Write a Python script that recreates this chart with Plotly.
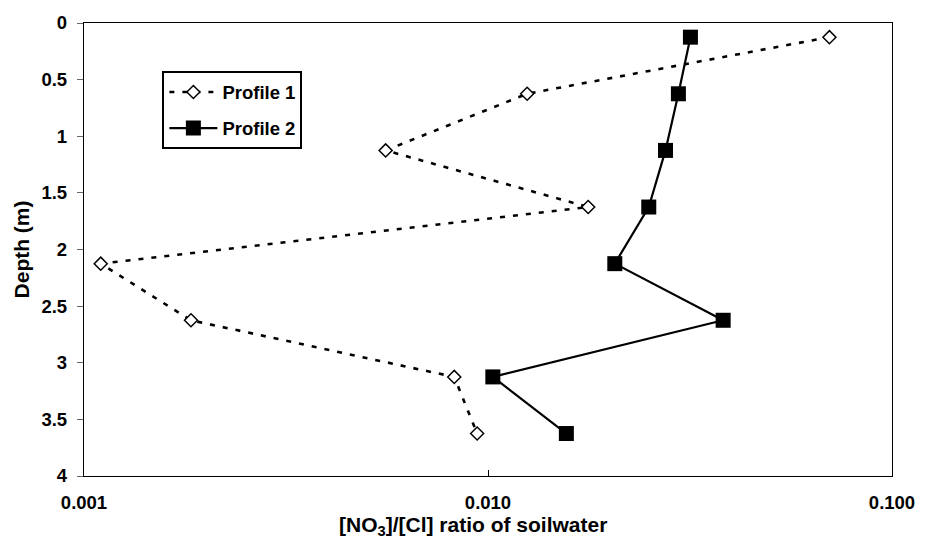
import plotly.graph_objects as go

# Sampling depths (m) and nitrate/chloride ratios for the two soil profiles
depth_m = [0.125, 0.625, 1.125, 1.625, 2.125, 2.625, 3.125, 3.625]
profile1_ratio = [0.0700, 0.0125, 0.00558, 0.0177, 0.00110, 0.00184, 0.00825, 0.0094]
profile2_ratio = [0.0317, 0.0296, 0.0275, 0.0250, 0.0206, 0.0382, 0.01028, 0.01563]

x_tick_vals = [0.001, 0.01, 0.1]
x_tick_text = ["0.001", "0.010", "0.100"]

FONT = "Liberation Sans, Arial, sans-serif"
bold = dict(family=FONT, size=18.5, color="black", weight="bold")
title_font = dict(family=FONT, size=21, color="black", weight="bold")

fig = go.Figure()
fig.add_trace(go.Scatter(
    x=profile1_ratio, y=depth_m, mode="lines+markers", name="Profile 1",
    legendgroup="p1",
    line=dict(color="black", width=2.6, dash="5px,8px"),
    marker=dict(symbol="diamond", size=10, color="white",
                line=dict(color="black", width=1.5)),
))
fig.add_trace(go.Scatter(
    x=profile2_ratio, y=depth_m, mode="lines+markers", name="Profile 2",
    legendgroup="p2",
    line=dict(color="black", width=2.2),
    marker=dict(symbol="square", size=15, color="black",
                line=dict(color="black", width=0)),
))

fig.update_layout(
    width=927, height=544,
    margin=dict(l=84, r=29, t=19, b=68),
    paper_bgcolor="white", plot_bgcolor="white",
    font=bold,
    showlegend=True,
    legend=dict(
        x=0.097, y=0.893, xanchor="left", yanchor="top",
        bordercolor="black", borderwidth=2, bgcolor="white",
        font=bold, itemwidth=48, tracegroupgap=9,
    ),
    xaxis=dict(
        type="log", range=[-3, -1],
        tickvals=x_tick_vals, ticktext=x_tick_text,
        ticks="inside", ticklen=6, tickcolor="black", tickwidth=1,
        showgrid=False, zeroline=False,
        showline=True, linecolor="black", linewidth=1.3, mirror=True,
        tickfont=bold, ticklabelstandoff=10,
    ),
    yaxis=dict(
        range=[4, 0], dtick=0.5, tick0=0,
        ticks="outside", ticklen=6, tickcolor="#666666", tickwidth=1,
        showgrid=False, zeroline=False,
        showline=True, linecolor="black", linewidth=1.3, mirror=True,
        tickfont=bold, ticklabelstandoff=6,
    ),
    annotations=[
        dict(text="[NO<sub>3</sub>]/[Cl] ratio of soilwater",
             xref="paper", yref="paper", x=(476 - 84) / 814, y=(476 - 526) / 457,
             xanchor="center", yanchor="middle", showarrow=False, font=title_font),
        dict(text="Depth (m)", textangle=-90,
             xref="paper", yref="paper", x=(21 - 84) / 814, y=(476 - 247) / 457,
             xanchor="center", yanchor="middle", showarrow=False, font=title_font),
    ],
)

fig.write_html("out.html")
